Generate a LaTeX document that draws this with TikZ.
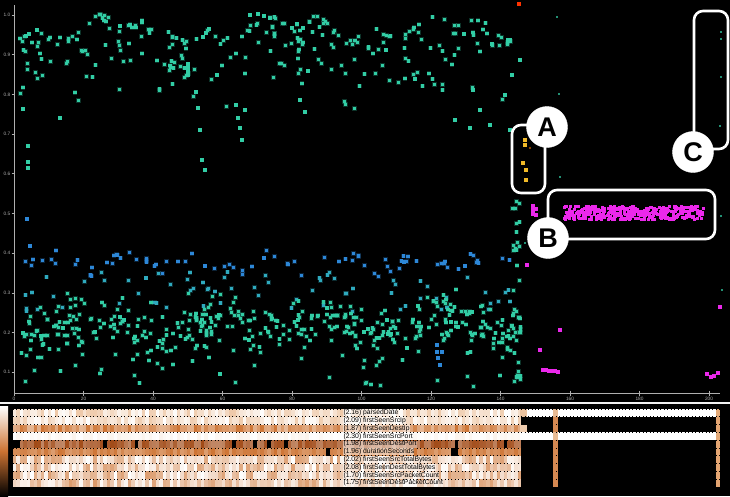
\documentclass[tikz,border=0pt]{standalone}
\usepackage{fontspec}
\setmainfont{Liberation Sans}
\definecolor{tealpt}{RGB}{50,205,165}
\definecolor{bluept}{RGB}{45,135,215}
\definecolor{magpt}{RGB}{235,40,235}
\definecolor{yelpt}{RGB}{240,185,40}
\definecolor{axisgray}{RGB}{175,175,175}
\definecolor{heatA}{RGB}{205,115,50}
\definecolor{heatB}{RGB}{160,72,20}
\definecolor{heatC}{RGB}{228,170,120}
\begin{document}
\begin{tikzpicture}[x=1pt,y=-1pt,
  callbox/.style={draw=white, line width=2.6pt, rounded corners=9pt, inner sep=0pt},
  callcirc/.style={circle, fill=white, draw=white, minimum size=41pt, inner sep=0pt, font=\fontsize{27}{27}\selectfont\bfseries, text=black},
  ticklab/.style={font=\fontsize{4.8}{5}\selectfont, text=axisgray, inner sep=0.5pt},
  heatlab/.style={font=\fontsize{6.8}{7}\selectfont, text=black, fill=white, fill opacity=0.5, text opacity=1, inner sep=0.3pt, anchor=west},
  axisline/.style={axisgray, line width=0.8pt}]
\newcommand\sq[3]{\fill[#1, opacity=0.25] (#2-2.4,#3-2.4) rectangle (#2+2.4,#3+2.4);\fill[#1] (#2-1.6,#3-1.6) rectangle (#2+1.6,#3+1.6);}
\pgfmathsetseed{11}
\useasboundingbox (0,0) rectangle (730,496);
\fill[black] (0,0) rectangle (730,496);

% ---------------- axes ----------------
\coordinate (ytop) at (14,5);
\coordinate (orig) at (14,393);
\coordinate (xend) at (720,393);
\draw[axisline] (ytop) -- (orig) -- (xend);
\foreach \v [count=\k from 0] in {1.0,0.9,0.8,0.7,0.6,0.5,0.4,0.3,0.2,0.1}{
  \pgfmathsetmacro\yy{15+39.7*\k}
  \draw[axisline] (11.5,\yy) -- (14,\yy);
  \node[ticklab, anchor=east] (yl\k) at (11,\yy) {\v};
}
\foreach \v [count=\k from 0] in {0,20,40,60,80,100,120,140,160,180,200}{
  \pgfmathsetmacro\xx{14+69.5*\k}
  \draw[axisline] (\xx,390.5) -- (\xx,395.5);
  \node[ticklab] (xl\k) at (\xx,399) {\v};
}

% ---------------- top teal cluster ----------------
\foreach \i in {1,...,270}{
  \pgfmathsetmacro\px{20+495*rnd}
  \pgfmathsetmacro\rr{rnd}
  \pgfmathsetmacro\py{27+9*sin(\px*2.2)+7*sin(\px*6.5)+72*\rr*\rr}
  \sq{tealpt}{\px}{\py}
}
\foreach \px/\py in {28/146,28/162,28/168,60/118,188/64,188/68,188/72,188/75,196/92,198/108,200/130,202/160,205/170,
  236/105,238/118,240/128,242/140,245/110,300/100,305/112,455/120,470/128,480/110,490/125,505/95,510/130,
  520/60,512/75,508/40,250/15,258/14,264/16,270/18}{
  \sq{tealpt}{\px}{\py}
}

% ---------------- bottom cluster ----------------
\foreach \i in {1,...,80}{
  \pgfmathsetmacro\px{20+495*rnd}
  \pgfmathsetmacro\py{263+6*sin(\px*5)+16*(rnd-0.5)}
  \sq{bluept}{\px}{\py}
}
\foreach \i in {1,...,70}{
  \pgfmathsetmacro\px{20+495*rnd}
  \pgfmathsetmacro\py{272+40*rnd}
  \sq{tealpt!50!bluept}{\px}{\py}
}
\foreach \i in {1,...,400}{
  \pgfmathsetmacro\px{20+495*rnd}
  \pgfmathsetmacro\py{326+26*(rnd+rnd+rnd-1.5)+6*sin(\px*3)}
  \sq{tealpt}{\px}{\py}
}
\foreach \i in {1,...,40}{
  \pgfmathsetmacro\px{20+495*rnd}
  \pgfmathsetmacro\py{345+42*rnd}
  \sq{tealpt}{\px}{\py}
}
\foreach \px/\py in {27/219,30/246,437/345,437/352,438/358,440/365,442/352}{
  \sq{bluept}{\px}{\py}
}
% vertical column near x=517
\foreach \i in {1,...,38}{
  \pgfmathsetmacro\px{512+9*rnd}
  \pgfmathsetmacro\py{200+188*rnd}
  \sq{tealpt}{\px}{\py}
}

% ---------------- right side points ----------------
\foreach \i in {1,...,380}{
  \pgfmathsetmacro\px{564+140*rnd}
  \pgfmathsetmacro\py{206+14*rnd}
  \fill[magpt] (\px-1.5,\py-1.5) rectangle (\px+1.5,\py+1.5);
}
\foreach \px/\py in {533/206,533/210,536/209,533/214,536/215,527/265,540/350,560/330,
  543/370,546/370,549/371,552/371,555/371,558/372,707/374,711/377,714/376,718/373,720/307}{
  \sq{magpt}{\px}{\py}
}
\foreach \px/\py in {525/140,525/145,523/163,526/170,526/180}{
  \sq{yelpt}{\px}{\py}
}
\sq{red!60!orange}{519}{4}
\fill[orange!70!black] (530,148) circle (1.2);
\foreach \px/\py in {557/17,559/94,560/177,721/32,721/39,721/77,720/126,721/216,525/243,722/290}{
  \fill[tealpt!70!black] (\px-1.3,\py-1.3) rectangle (\px+1.3,\py+1.3);
}

% ---------------- separator and heat map ----------------
\coordinate (sepL) at (0,402.5);
\coordinate (sepR) at (730,402.5);
\draw[white!90!gray, line width=2pt] (sepL) -- (sepR);
\shade[top color=white, bottom color=black, middle color=heatA] (0,406) rectangle (8,496);

\foreach \row/\base/\lo/\hi/\blk in {1/heatC/0/65/0, 2/heatC/0/60/0, 3/heatA/50/100/0, 4/heatC/0/15/0,
  5/heatB/65/100/8, 6/heatA/70/100/2, 7/heatA/0/70/0, 8/heatA/0/70/0, 9/heatA/0/70/0, 10/heatA/5/75/0}{
  \pgfmathsetmacro\ya{409+7.8*(\row-1)}
  \pgfmathsetmacro\yb{\ya+7.8}
  \foreach \c in {0,...,145}{
    \pgfmathsetmacro\xa{13+3.48*\c}
    \pgfmathsetmacro\xb{\xa+3.5}
    \pgfmathtruncatemacro\m{\lo+(\hi-\lo)*rnd}
    \pgfmathtruncatemacro\isb{100*rnd<\blk?1:0}
    \ifnum\isb=1
      \fill[black] (\xa,\ya) rectangle (\xb,\yb);
    \else
      \fill[\base!\m!white] (\xa,\ya) rectangle (\xb,\yb);
    \fi
  }
}
% extensions of rows 1 and 4
\foreach \row in {1,4}{
  \pgfmathsetmacro\ya{409+7.8*(\row-1)}
  \fill[white] (520,\ya) rectangle (716,\ya+7.8);
}
\fill[heatC!60!white] (520,424.6) rectangle (527,432.4);
\fill[heatC!70!white] (520,409) rectangle (527,416.8);
% orange columns
\foreach \row in {2,3,5,6,7,8,9,10}{
  \pgfmathsetmacro\ya{409+7.8*(\row-1)}
  \fill[heatA!85!white] (553,\ya) rectangle (558,\ya+7.8);
  \fill[heatC!90!heatA] (716,\ya) rectangle (720,\ya+7.8);
}
\foreach \row in {1,4}{
  \pgfmathsetmacro\ya{409+7.8*(\row-1)}
  \fill[heatC!80!white] (553,\ya) rectangle (558,\ya+7.8);
  \fill[heatC] (716,\ya) rectangle (720,\ya+7.8);
}
% dotted cell separators
\foreach \k in {0,...,10}{
  \pgfmathsetmacro\yy{409+7.8*\k}
  \draw[black, line width=0.8pt, dash pattern=on 1pt off 2.48pt] (13,\yy) -- (721,\yy);
}
% row labels
\foreach \t [count=\k] in {(2.16) parsedDate,(2.09) firstSeenSrcIp,(1.87) firstSeenDestIp,(2.30) firstSeenSrcPort,
  (1.98) firstSeenDestPort,(1.96) durationSeconds,(2.02) firstSeenSrcTotalBytes,(2.08) firstSeenDestTotalBytes,
  (1.70) firstSeenSrcPacketCount,(1.75) firstSeenDestPacketCount}{
  \pgfmathsetmacro\yy{409+7.8*(\k-0.5)}
  \node[heatlab] (hl\k) at (343,\yy) {\t};
}

% ---------------- callouts ----------------
\node[callbox, minimum width=33pt, minimum height=68pt] (boxA) at (528.5,159) {};
\node[callbox, minimum width=167pt, minimum height=49pt] (boxB) at (631.5,214.5) {};
\node[callbox, minimum width=34pt, minimum height=138pt] (boxC) at (711,80) {};
\node[callcirc] (cA) at (547,127) {A};
\node[callcirc] (cB) at (548,238) {B};
\node[callcirc] (cC) at (693,152) {C};
\end{tikzpicture}
\end{document}
